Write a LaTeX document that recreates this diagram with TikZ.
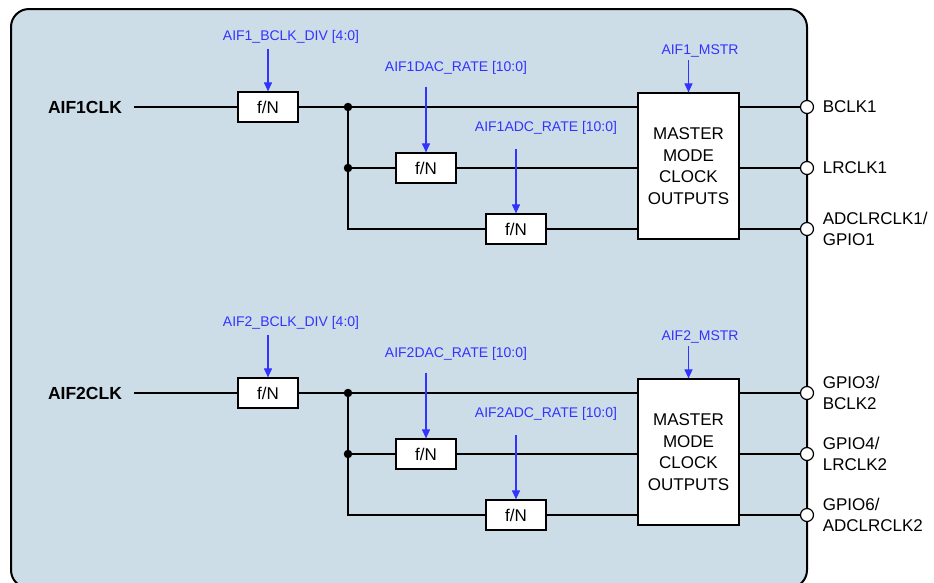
\documentclass[tikz,border=0pt]{standalone}
\usepackage{fontspec}
\setmainfont{Liberation Sans}
\usepackage{xcolor}
\definecolor{panel}{HTML}{CCDDE8}
\definecolor{ctlblue}{HTML}{3333FF}
\usetikzlibrary{arrows.meta,positioning}
\tikzset{
  >=Stealth,
  font=\fontsize{17}{21.5}\selectfont,
  chip/.style={draw=black,line width=2pt,fill=panel,rounded corners=18pt},
  div/.style={draw=black,line width=1.2pt,fill=white,minimum width=60pt,
              minimum height=30pt,inner sep=0pt},
  mmco/.style={div,minimum width=101pt,minimum height=146pt,align=center},
  wire/.style={line width=1.3pt,draw=black},
  ctl/.style={-{Stealth[length=9pt,width=8pt,inset=0pt]},line width=1.1pt,draw=ctlblue},
  reg/.style={font=\fontsize{14}{17}\selectfont,text=ctlblue,inner sep=2pt},
  clkname/.style={font=\fontsize{17.5}{21}\selectfont\bfseries},
  pin/.style={circle,draw=black,line width=1.2pt,fill=white,minimum size=13pt,inner sep=0pt},
  pinname/.style={align=left,inner sep=0pt},
  dot/.style={circle,fill=black,minimum size=8.5pt,inner sep=0pt},
}
\begin{document}
\begin{tikzpicture}[x=1pt,y=-1pt]
  \useasboundingbox (0,0) rectangle (934,582);
  \draw[chip] (11,9) rectangle (807,588);

  % AIF1 clocking
  \node[clkname] (c1) at (85,107) {AIF1CLK};
  \node[div] (f1a) at (268,107) {f/N};
  \node[div] (f1b) at (426,168) {f/N};
  \node[div] (f1c) at (516,229) {f/N};
  \node[mmco] (m1) at (688.5,166) {MASTER\\MODE\\CLOCK\\OUTPUTS};
  \node[dot] (j1a) at (348,107) {};
  \node[dot] (j1b) at (348,168) {};
  \coordinate (k1) at (348,229);
  \node[pin] (p1a) at (807,107) {};
  \node[pin] (p1b) at (807,168) {};
  \node[pin] (p1c) at (807,229) {};
  \node[pinname,right=8.5pt of p1a] (n1a) {BCLK1};
  \node[pinname,right=8.5pt of p1b] (n1b) {LRCLK1};
  \node[pinname,right=8.5pt of p1c] (n1c) {ADCLRCLK1/\\GPIO1};

  \node[reg] (r1a) at (291,37) {AIF1\_BCLK\_DIV [4:0]};
  \node[reg] (r1b) at (456,68) {AIF1DAC\_RATE [10:0]};
  \node[reg] (r1c) at (546,128) {AIF1ADC\_RATE [10:0]};
  \node[reg] (r1m) at (700,51) {AIF1\_MSTR};

  \draw[wire,shorten <=9pt] (c1) -- (f1a);
  \draw[wire] (f1a) -- (m1.west |- f1a);
  \draw[wire] (j1a) -- (k1) -- (f1c);
  \draw[wire] (j1b) -- (f1b);
  \draw[wire] (f1b) -- (m1.west |- f1b);
  \draw[wire] (f1c) -- (m1.west |- f1c);
  \draw[wire] (m1.east |- p1a) -- (p1a);
  \draw[wire] (m1.east |- p1b) -- (p1b);
  \draw[wire] (m1.east |- p1c) -- (p1c);

  \draw[ctl,shorten <=3pt] (r1a.south -| f1a.north) -- (f1a);
  \draw[ctl,shorten <=10pt] (r1b.south -| f1b.north) -- (f1b);
  \draw[ctl,shorten <=12pt] (r1c.south -| f1c.north) -- (f1c);
  \draw[ctl,shorten <=1pt] (r1m.south -| m1.north) -- (m1);

  % AIF2 clocking
  \node[clkname] (c2) at (85,393) {AIF2CLK};
  \node[div] (f2a) at (268,393) {f/N};
  \node[div] (f2b) at (426,454) {f/N};
  \node[div] (f2c) at (516,515) {f/N};
  \node[mmco] (m2) at (688.5,452) {MASTER\\MODE\\CLOCK\\OUTPUTS};
  \node[dot] (j2a) at (348,393) {};
  \node[dot] (j2b) at (348,454) {};
  \coordinate (k2) at (348,515);
  \node[pin] (p2a) at (807,393) {};
  \node[pin] (p2b) at (807,454) {};
  \node[pin] (p2c) at (807,515) {};
  \node[pinname,right=8.5pt of p2a] (n2a) {GPIO3/\\BCLK2};
  \node[pinname,right=8.5pt of p2b] (n2b) {GPIO4/\\LRCLK2};
  \node[pinname,right=8.5pt of p2c] (n2c) {GPIO6/\\ADCLRCLK2};

  \node[reg] (r2a) at (291,323) {AIF2\_BCLK\_DIV [4:0]};
  \node[reg] (r2b) at (456,354) {AIF2DAC\_RATE [10:0]};
  \node[reg] (r2c) at (546,414) {AIF2ADC\_RATE [10:0]};
  \node[reg] (r2m) at (700,337) {AIF2\_MSTR};

  \draw[wire,shorten <=9pt] (c2) -- (f2a);
  \draw[wire] (f2a) -- (m2.west |- f2a);
  \draw[wire] (j2a) -- (k2) -- (f2c);
  \draw[wire] (j2b) -- (f2b);
  \draw[wire] (f2b) -- (m2.west |- f2b);
  \draw[wire] (f2c) -- (m2.west |- f2c);
  \draw[wire] (m2.east |- p2a) -- (p2a);
  \draw[wire] (m2.east |- p2b) -- (p2b);
  \draw[wire] (m2.east |- p2c) -- (p2c);

  \draw[ctl,shorten <=3pt] (r2a.south -| f2a.north) -- (f2a);
  \draw[ctl,shorten <=10pt] (r2b.south -| f2b.north) -- (f2b);
  \draw[ctl,shorten <=12pt] (r2c.south -| f2c.north) -- (f2c);
  \draw[ctl,shorten <=1pt] (r2m.south -| m2.north) -- (m2);
\end{tikzpicture}
\end{document}
